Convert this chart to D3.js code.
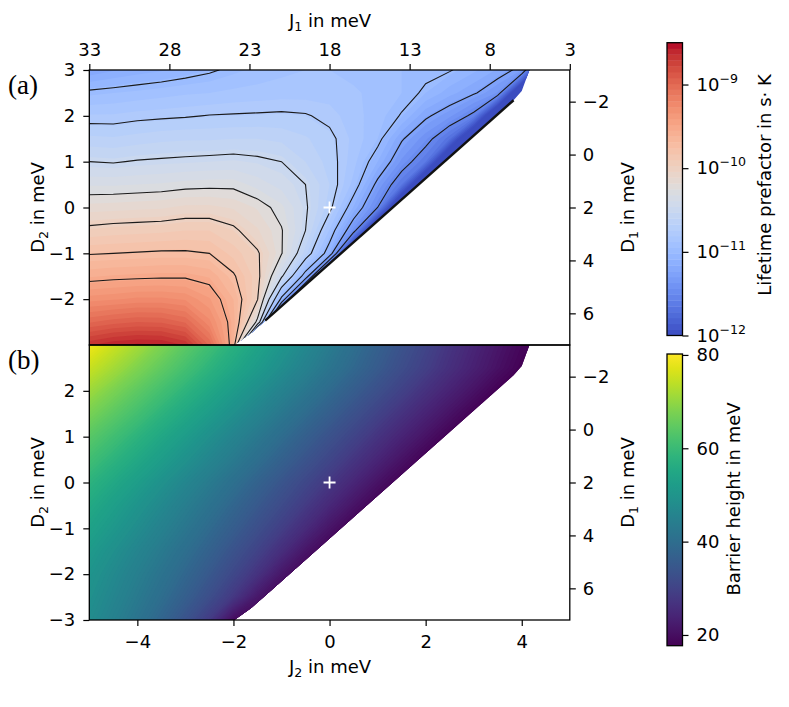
<!DOCTYPE html>
<html>
<head>
<meta charset="utf-8">
<script src="https://cdn.jsdelivr.net/npm/d3@7"></script>
<style>
  body { margin: 0; background: #fff; }
  svg { display: block; }
</style>
</head>
<body>
<svg id="chart" width="789" height="707"></svg>
<script>
// grid of the two maps (J2 columns, D2 rows from top to bottom)
const j2Grid = [-5, -4.5, -4, -3.5, -3, -2.5, -2, -1.5, -1, -0.5, 0, 0.5, 1, 1.5, 2, 2.5, 3, 3.5, 4, 4.5, 5];
const d2Grid = [3, 2.5, 2, 1.5, 1, 0.5, 0, -0.5, -1, -1.5, -2, -2.5, -3];

// log10 of the lifetime prefactor (s K); null = no data
const lifetimeLog = [
  [-11.22, -11.17, -11.13, -11.10, -11.06, -11.02, -10.97, -10.93, -10.90, -10.88, -10.88, -10.90, -10.92, -10.95, -10.97, -10.99, -11.07, -11.17, -11.30, null, null],
  [-10.97, -10.95, -10.93, -10.91, -10.89, -10.88, -10.86, -10.85, -10.84, -10.84, -10.84, -10.87, -10.90, -10.95, -11.02, -11.13, -11.23, -11.38, null, null, null],
  [-10.80, -10.80, -10.78, -10.77, -10.76, -10.745, -10.74, -10.735, -10.73, -10.74, -10.78, -10.85, -10.92, -11.01, -11.22, -11.35, -11.55, null, null, null, null],
  [-10.65, -10.66, -10.64, -10.62, -10.61, -10.61, -10.60, -10.60, -10.62, -10.66, -10.72, -10.83, -10.95, -11.23, -11.42, -11.70, null, null, null, null, null],
  [-10.50, -10.51, -10.49, -10.48, -10.47, -10.46, -10.45, -10.47, -10.50, -10.60, -10.70, -10.85, -11.09, -11.39, -11.65, null, null, null, null, null, null],
  [-10.33, -10.33, -10.32, -10.31, -10.29, -10.28, -10.28, -10.35, -10.42, -10.50, -10.67, -10.91, -11.30, -11.65, null, null, null, null, null, null, null],
  [-10.15, -10.14, -10.13, -10.12, -10.09, -10.09, -10.12, -10.19, -10.30, -10.48, -10.71, -11.10, -11.50, null, null, null, null, null, null, null, null],
  [-9.96, -9.94, -9.93, -9.92, -9.90, -9.90, -9.97, -10.10, -10.24, -10.50, -10.89, -11.40, null, null, null, null, null, null, null, null, null],
  [-9.76, -9.75, -9.74, -9.73, -9.73, -9.75, -9.86, -9.98, -10.24, -10.64, -11.10, null, null, null, null, null, null, null, null, null, null],
  [-9.56, -9.54, -9.53, -9.52, -9.52, -9.56, -9.73, -9.95, -10.47, -11.10, null, null, null, null, null, null, null, null, null, null, null],
  [-9.30, -9.28, -9.25, -9.25, -9.28, -9.40, -9.62, -9.99, -11.05, null, null, null, null, null, null, null, null, null, null, null, null],
  [-9.00, -8.95, -8.92, -8.93, -9.00, -9.25, -9.58, -10.30, null, null, null, null, null, null, null, null, null, null, null, null, null],
  [-8.65, -8.58, -8.55, -8.56, -8.65, -9.00, -9.60, null, null, null, null, null, null, null, null, null, null, null, null, null, null]
];

// barrier height in meV
const barrier = [
  [79.0, 75.3, 71.7, 68.1, 64.5, 61.0, 57.4, 53.9, 50.4, 47.0, 43.6, 40.2, 36.9, 33.7, 30.5, 27.3, 24.3, 21.4, 18.7, null, null],
  [75.0, 71.6, 68.2, 64.9, 61.5, 58.2, 54.9, 51.6, 48.3, 45.1, 41.8, 38.6, 35.5, 32.3, 29.3, 26.2, 23.3, 20.4, null, null, null],
  [71.0, 67.8, 64.6, 61.4, 58.2, 55.0, 51.8, 48.6, 45.4, 42.3, 39.1, 36.0, 32.9, 29.8, 26.7, 23.7, 20.7, null, null, null, null],
  [67.5, 64.4, 61.3, 58.1, 55.0, 51.9, 48.8, 45.7, 42.5, 39.4, 36.3, 33.2, 30.0, 26.9, 23.8, 20.7, null, null, null, null, null],
  [64.0, 61.0, 58.0, 54.9, 51.9, 48.8, 45.8, 42.7, 39.6, 36.5, 33.4, 30.3, 27.1, 23.9, 20.7, null, null, null, null, null, null],
  [61.0, 58.1, 55.1, 52.2, 49.2, 46.2, 43.2, 40.1, 37.0, 33.9, 30.7, 27.5, 24.2, 20.7, null, null, null, null, null, null, null],
  [58.0, 55.1, 52.3, 49.3, 46.4, 43.4, 40.4, 37.3, 34.2, 31.0, 27.8, 24.4, 20.7, null, null, null, null, null, null, null, null],
  [55.5, 52.7, 49.9, 47.1, 44.1, 41.2, 38.1, 35.0, 31.8, 28.4, 24.8, 20.9, null, null, null, null, null, null, null, null, null],
  [53.5, 50.8, 48.0, 45.1, 42.2, 39.1, 36.0, 32.7, 29.2, 25.4, 21.0, null, null, null, null, null, null, null, null, null, null],
  [51.5, 48.8, 46.0, 43.1, 40.1, 37.0, 33.6, 30.0, 26.0, 21.1, null, null, null, null, null, null, null, null, null, null, null],
  [50.0, 47.3, 44.4, 41.4, 38.3, 34.9, 31.1, 26.9, 21.4, null, null, null, null, null, null, null, null, null, null, null, null],
  [49.0, 46.2, 43.1, 39.9, 36.4, 32.5, 27.9, 21.6, null, null, null, null, null, null, null, null, null, null, null, null, null],
  [48.0, 44.9, 41.6, 37.9, 33.6, 28.4, 19.5, null, null, null, null, null, null, null, null, null, null, null, null, null, null]
];

// edge of the region with data (J2, D2)
const edgeJ2 = [-5, 4.16, 4.0, 3.83, -1.34, -1.63, -1.98, -5];
const edgeD2 = [3, 3, 2.54, 2.34, -2.47, -2.74, -3, -3];

// marked point
const markJ2 = [0];
const markD2 = [0];

// ticks
const j2Ticks = [-4, -2, 0, 2, 4];
const j1Ticks = [33, 28, 23, 18, 13, 8, 3];
const d2TicksTop = [3, 2, 1, 0, -1, -2];
const d2TicksBottom = [2, 1, 0, -1, -2, -3];
const d1Ticks = [-2, 0, 2, 4, 6];
const lifeTicks = [-12, -11, -10, -9];
const barrierTicks = [20, 40, 60, 80];
const contourLines = [-11.5, -11.25, -11, -10.75, -10.5, -10.25, -10, -9.75, -9.5];

const lifeMin = -12, lifeMax = -8.5, lifeBands = 50;
const barrierMin = 17.7, barrierMax = 80.2;

// matplotlib coolwarm
const coolwarm = d3.piecewise(d3.interpolateRgb, [
  "rgb(59,76,192)", "rgb(68,90,204)", "rgb(77,104,215)", "rgb(87,117,225)", "rgb(98,130,234)",
  "rgb(108,142,241)", "rgb(119,154,247)", "rgb(130,165,251)", "rgb(141,176,254)", "rgb(152,185,255)",
  "rgb(163,194,255)", "rgb(174,201,253)", "rgb(184,208,249)", "rgb(194,213,244)", "rgb(204,217,238)",
  "rgb(213,219,230)", "rgb(221,221,221)", "rgb(229,216,209)", "rgb(236,211,197)", "rgb(241,204,185)",
  "rgb(245,196,173)", "rgb(247,187,160)", "rgb(247,177,148)", "rgb(247,166,135)", "rgb(244,154,123)",
  "rgb(241,141,111)", "rgb(236,127,99)", "rgb(229,112,88)", "rgb(222,96,77)", "rgb(213,80,66)",
  "rgb(203,62,56)", "rgb(192,40,47)", "rgb(180,4,38)"
]);

const svg = d3.select("#chart");
const defs = svg.append("defs");

const x = d3.scaleLinear().domain([-5, 5]).range([89.3, 569.8]);
const yTop = d3.scaleLinear().domain([-3, 3]).range([345, 70]);
const yBottom = d3.scaleLinear().domain([-3, 3]).range([620, 345]);

const nx = j2Grid.length;
const ny = d2Grid.length;

const fmt = (d) => (d < 0 ? "\u2212" : "") + Math.abs(d);

// grid index space -> pixels (d3.contours puts value i at i + 0.5)
const gridPath = (yScale) => {
  const gx = d3.scaleLinear().domain([0.5, nx - 0.5]).range([x(j2Grid[0]), x(j2Grid[nx - 1])]);
  const gy = d3.scaleLinear().domain([0.5, ny - 0.5]).range([yScale(d2Grid[0]), yScale(d2Grid[ny - 1])]);
  return d3.geoPath(
    d3.geoTransform({
      point: function (px, py) {
        this.stream.point(gx(px), gy(py));
      },
    })
  );
};

const flatten = (rows, fillValue) => rows.flat().map((v) => (v == null ? fillValue : v));

const edgePoints = (yScale) => edgeJ2.map((j, i) => [x(j), yScale(edgeD2[i])]);

const addClip = (id, yScale) => {
  defs.append("clipPath").attr("id", id)
    .append("path")
    .attr("d", d3.line()(edgePoints(yScale)) + "Z");
};
addClip("clip-a", yTop);
addClip("clip-b", yBottom);

// ---------- panel (a): lifetime prefactor ----------
const pathA = gridPath(yTop);
const lifeStep = (lifeMax - lifeMin) / lifeBands;
const lifeLevels = d3.range(lifeBands).map((i) => lifeMin + i * lifeStep);
const lifeColor = (v) => coolwarm(Math.max(0, Math.min(1, (v - lifeMin) / (lifeMax - lifeMin))));
const lifeValues = flatten(lifetimeLog, -12.5);

const gA = svg.append("g").attr("clip-path", "url(#clip-a)");
gA.append("rect")
  .attr("x", x(-5)).attr("y", yTop(3))
  .attr("width", x(5) - x(-5)).attr("height", yTop(-3) - yTop(3))
  .attr("fill", lifeColor(lifeMin));

gA.selectAll("path.band")
  .data(d3.contours().size([nx, ny]).thresholds(lifeLevels)(lifeValues))
  .join("path")
  .attr("class", "band")
  .attr("d", pathA)
  .attr("fill", (d) => lifeColor(d.value + lifeStep / 2));

gA.selectAll("path.iso")
  .data(d3.contours().size([nx, ny]).thresholds(contourLines)(lifeValues))
  .join("path")
  .attr("class", "iso")
  .attr("d", pathA)
  .attr("fill", "none")
  .attr("stroke", "#1a1a1a")
  .attr("stroke-width", 1.1);

// contour lines pile up on the straight edge
svg.append("path")
  .attr("d", d3.line()(edgePoints(yTop).slice(3, 5)))
  .attr("stroke", "#111")
  .attr("stroke-width", 2.4)
  .attr("fill", "none");

// ---------- panel (b): barrier height ----------
const pathB = gridPath(yBottom);
const barrierStep = 0.5;
const barrierLevels = d3.range(barrierMin, barrierMax, barrierStep);
const barrierColor = (v) => d3.interpolateViridis(Math.max(0, Math.min(1, (v - barrierMin) / (barrierMax - barrierMin))));
const barrierValues = flatten(barrier, barrierMin);

const gB = svg.append("g").attr("clip-path", "url(#clip-b)");
gB.append("rect")
  .attr("x", x(-5)).attr("y", yBottom(3))
  .attr("width", x(5) - x(-5)).attr("height", yBottom(-3) - yBottom(3))
  .attr("fill", barrierColor(barrierMin));

gB.selectAll("path.band")
  .data(d3.contours().size([nx, ny]).thresholds(barrierLevels)(barrierValues))
  .join("path")
  .attr("class", "band")
  .attr("d", pathB)
  .attr("fill", (d) => barrierColor(d.value + barrierStep / 2));

// ---------- white markers ----------
[yTop, yBottom].forEach((yScale) => {
  svg.append("g")
    .selectAll("path")
    .data(markJ2)
    .join("path")
    .attr("d", (d, i) => {
      const cx = x(d), cy = yScale(markD2[i]);
      return `M${cx - 6},${cy}H${cx + 6}M${cx},${cy - 6}V${cy + 6}`;
    })
    .attr("stroke", "#fff")
    .attr("stroke-width", 1.8);
});

// ---------- axes ----------
const dress = (g) => {
  g.attr("font-size", 18).attr("font-family", "DejaVu Sans");
  g.select(".domain").remove();
  g.selectAll(".tick line").attr("stroke", "#000").attr("stroke-width", 1.2);
  g.selectAll(".tick text").attr("fill", "#000");
};

// D1 = 2 - sqrt(3) * D2
const d1ToD2 = (d1) => (2 - d1) / Math.sqrt(3);
// J1 = 18 - 3 * J2
const j1ToJ2 = (j1) => (18 - j1) / 3;

svg.append("g")
  .attr("transform", `translate(0,${yTop(3)})`)
  .call(d3.axisTop(x).tickValues(j1Ticks.map(j1ToJ2)).tickFormat((d, i) => j1Ticks[i]).tickSize(6).tickPadding(8))
  .call(dress);

svg.append("g")
  .attr("transform", `translate(${x(-5)},0)`)
  .call(d3.axisLeft(yTop).tickValues(d2TicksTop).tickFormat(fmt).tickSize(6).tickPadding(8))
  .call(dress);

svg.append("g")
  .attr("transform", `translate(${x(5)},0)`)
  .call(d3.axisRight(yTop).tickValues(d1Ticks.map(d1ToD2)).tickFormat((d, i) => fmt(d1Ticks[i])).tickSize(6).tickPadding(7))
  .call(dress);

svg.append("g")
  .attr("transform", `translate(${x(-5)},0)`)
  .call(d3.axisLeft(yBottom).tickValues(d2TicksBottom).tickFormat(fmt).tickSize(6).tickPadding(8))
  .call(dress);

svg.append("g")
  .attr("transform", `translate(${x(5)},0)`)
  .call(d3.axisRight(yBottom).tickValues(d1Ticks.map(d1ToD2)).tickFormat((d, i) => fmt(d1Ticks[i])).tickSize(6).tickPadding(7))
  .call(dress);

svg.append("g")
  .attr("transform", `translate(0,${yBottom(-3)})`)
  .call(d3.axisBottom(x).tickValues(j2Ticks).tickFormat(fmt).tickSize(6).tickPadding(9))
  .call(dress);

// frames
[yTop, yBottom].forEach((yScale) => {
  svg.append("rect")
    .attr("x", x(-5)).attr("y", yScale(3))
    .attr("width", x(5) - x(-5)).attr("height", yScale(-3) - yScale(3))
    .attr("fill", "none")
    .attr("stroke", "#000")
    .attr("stroke-width", 1.3);
});

// ---------- axis labels ----------
const label = (tx, ty, rot, main, sub, rest) => {
  const t = svg.append("text")
    .attr("transform", `translate(${tx},${ty}) rotate(${rot})`)
    .attr("text-anchor", "middle")
    .attr("font-family", "DejaVu Sans")
    .attr("font-size", 18)
    .attr("fill", "#000");
  t.append("tspan").text(main);
  if (sub) {
    t.append("tspan").attr("font-size", 12.6).attr("dy", 4).text(sub);
    t.append("tspan").attr("dy", -4).text(rest);
  }
  return t;
};

label(330, 27, 0, "J", "1", " in meV");
label(330, 673, 0, "J", "2", " in meV");
label(44, yTop(0), -90, "D", "2", " in meV");
label(44, yBottom(0), -90, "D", "2", " in meV");
label(634, yTop(0), -90, "D", "1", " in meV");
label(634, yBottom(0), -90, "D", "1", " in meV");

svg.append("text").attr("x", 8).attr("y", 94)
  .attr("font-family", "Liberation Serif").attr("font-size", 27).text("(a)");
svg.append("text").attr("x", 8).attr("y", 369)
  .attr("font-family", "Liberation Serif").attr("font-size", 27).text("(b)");

// ---------- colorbar (a) ----------
const cbX = 667, cbW = 15.5;
const cbLife = d3.scaleLinear().domain([lifeMin, lifeMax]).range([335.5, 42.7]);

svg.append("g")
  .selectAll("rect")
  .data(lifeLevels)
  .join("rect")
  .attr("x", cbX)
  .attr("y", (d) => cbLife(d + lifeStep))
  .attr("width", cbW)
  .attr("height", (d) => cbLife(d) - cbLife(d + lifeStep) + 0.4)
  .attr("fill", (d) => lifeColor(d + lifeStep / 2));

svg.append("rect")
  .attr("x", cbX).attr("y", cbLife(lifeMax))
  .attr("width", cbW).attr("height", cbLife(lifeMin) - cbLife(lifeMax))
  .attr("fill", "none").attr("stroke", "#000").attr("stroke-width", 1.3);

const cbAxisA = svg.append("g")
  .attr("transform", `translate(${cbX + cbW},0)`)
  .call(d3.axisRight(cbLife).tickValues(lifeTicks).tickSize(6).tickPadding(8))
  .call(dress);
cbAxisA.selectAll(".tick text").each(function (d) {
  const t = d3.select(this).text(null);
  t.append("tspan").text("10");
  t.append("tspan").attr("font-size", 12.6).attr("dy", -8).text("\u2212" + Math.abs(d));
});

svg.append("text")
  .attr("transform", `translate(771,185) rotate(-90)`)
  .attr("text-anchor", "middle")
  .attr("font-family", "DejaVu Sans")
  .attr("font-size", 18)
  .text("Lifetime prefactor in s\u00b7 K");

// ---------- colorbar (b) ----------
const cbBarrier = d3.scaleLinear().domain([barrierMin, barrierMax]).range([645.7, 354]);

const grad = defs.append("linearGradient")
  .attr("id", "viridis-grad")
  .attr("x1", 0).attr("y1", 1).attr("x2", 0).attr("y2", 0);
grad.selectAll("stop")
  .data(d3.range(0, 1.0001, 0.05))
  .join("stop")
  .attr("offset", (d) => d)
  .attr("stop-color", (d) => d3.interpolateViridis(d));

svg.append("rect")
  .attr("x", cbX).attr("y", cbBarrier(barrierMax))
  .attr("width", cbW).attr("height", cbBarrier(barrierMin) - cbBarrier(barrierMax))
  .attr("fill", "url(#viridis-grad)")
  .attr("stroke", "#000").attr("stroke-width", 1.3);

svg.append("g")
  .attr("transform", `translate(${cbX + cbW},0)`)
  .call(d3.axisRight(cbBarrier).tickValues(barrierTicks).tickSize(6).tickPadding(8))
  .call(dress);

svg.append("text")
  .attr("transform", `translate(740,499) rotate(-90)`)
  .attr("text-anchor", "middle")
  .attr("font-family", "DejaVu Sans")
  .attr("font-size", 18)
  .text("Barrier height in meV");
</script>
</body>
</html>
